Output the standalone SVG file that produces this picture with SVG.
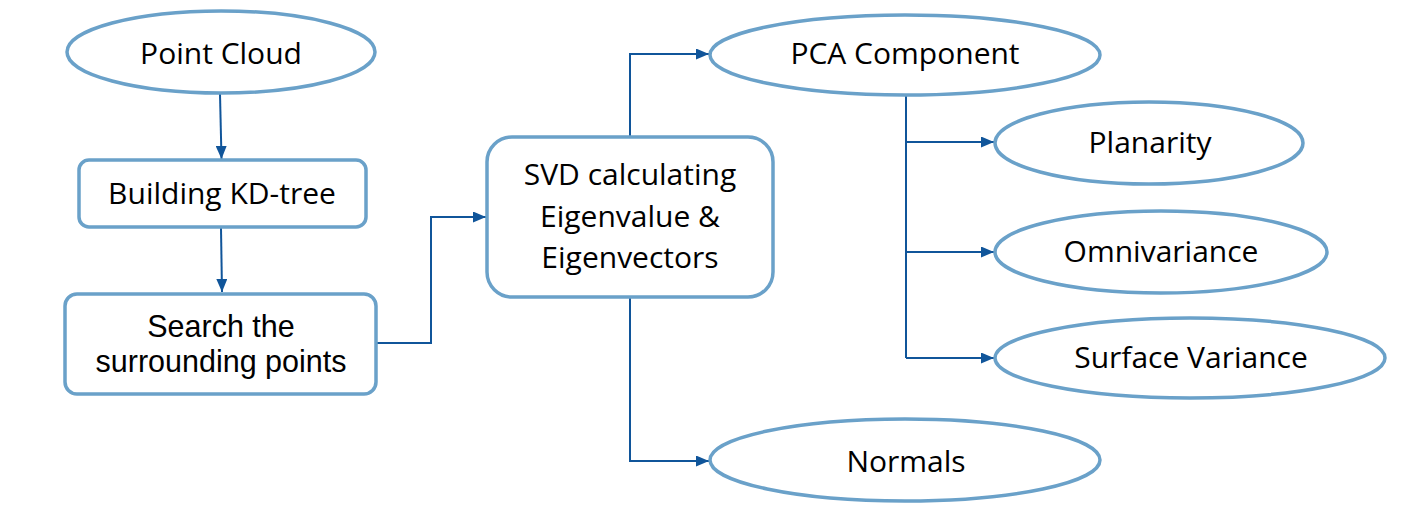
<svg xmlns="http://www.w3.org/2000/svg" width="1410" height="515" viewBox="0 0 1410 515">
<style>
.n{fill:#fff;stroke:#6aa1c9;stroke-width:3.5}
.t{font-family:"Open Sans","Liberation Sans",sans-serif;font-size:30px;fill:#000;text-anchor:middle}
.a{font-family:"Liberation Sans",Arial,sans-serif;font-size:30.5px;fill:#000;text-anchor:middle}
.c{fill:none;stroke:#10559a;stroke-width:2}
</style>
<defs>
<marker id="ah" viewBox="0 0 13 11" refX="13" refY="5.5" markerWidth="13" markerHeight="11" markerUnits="userSpaceOnUse" orient="auto">
<path d="M0,0 L13,5.5 L0,11 z" fill="#10559a"/>
</marker>
</defs>
<rect width="1410" height="515" fill="#fff"/>
<g id="connectors">
<path class="c" d="M220,94 L221.5,159" marker-end="url(#ah)"/>
<path class="c" d="M221,228 L222,292" marker-end="url(#ah)"/>
<path class="c" d="M376,343 H431 V217 H486" marker-end="url(#ah)"/>
<path class="c" d="M630,137 V54 H709" marker-end="url(#ah)"/>
<path class="c" d="M630,297 V461 H709" marker-end="url(#ah)"/>
<path class="c" d="M906,95 V358"/>
<path class="c" d="M906,142 H994" marker-end="url(#ah)"/>
<path class="c" d="M906,252 H994" marker-end="url(#ah)"/>
<path class="c" d="M906,358 H994" marker-end="url(#ah)"/>
</g>
<g id="point-cloud">
<ellipse class="n" cx="221" cy="52" rx="154" ry="41"/>
<text class="t" x="221" y="64">Point Cloud</text>
</g>
<g id="kd-tree">
<rect class="n" x="79" y="160" width="287" height="67" rx="10"/>
<text class="t" x="222" y="204">Building KD-tree</text>
</g>
<g id="search">
<rect class="n" x="65" y="294" width="311" height="100" rx="12"/>
<text class="a" x="221" y="337">Search the</text>
<text class="a" x="221" y="372">surrounding points</text>
</g>
<g id="svd">
<rect class="n" x="487" y="137" width="286" height="160" rx="25"/>
<text class="t" x="630" y="185">SVD calculating</text>
<text class="t" x="630" y="227">Eigenvalue &amp;</text>
<text class="t" x="630" y="268">Eigenvectors</text>
</g>
<g id="pca">
<ellipse class="n" cx="905" cy="55" rx="195" ry="40"/>
<text class="t" x="905" y="64">PCA Component</text>
</g>
<g id="planarity">
<ellipse class="n" cx="1149" cy="143" rx="154" ry="41"/>
<text class="t" x="1150" y="153">Planarity</text>
</g>
<g id="omnivariance">
<ellipse class="n" cx="1161" cy="252" rx="166" ry="41"/>
<text class="t" x="1161" y="262">Omnivariance</text>
</g>
<g id="surface-variance">
<ellipse class="n" cx="1190" cy="358" rx="195" ry="40"/>
<text class="t" x="1191" y="368">Surface Variance</text>
</g>
<g id="normals">
<ellipse class="n" cx="905" cy="460" rx="195" ry="41"/>
<text class="t" x="906" y="472">Normals</text>
</g>
</svg>
